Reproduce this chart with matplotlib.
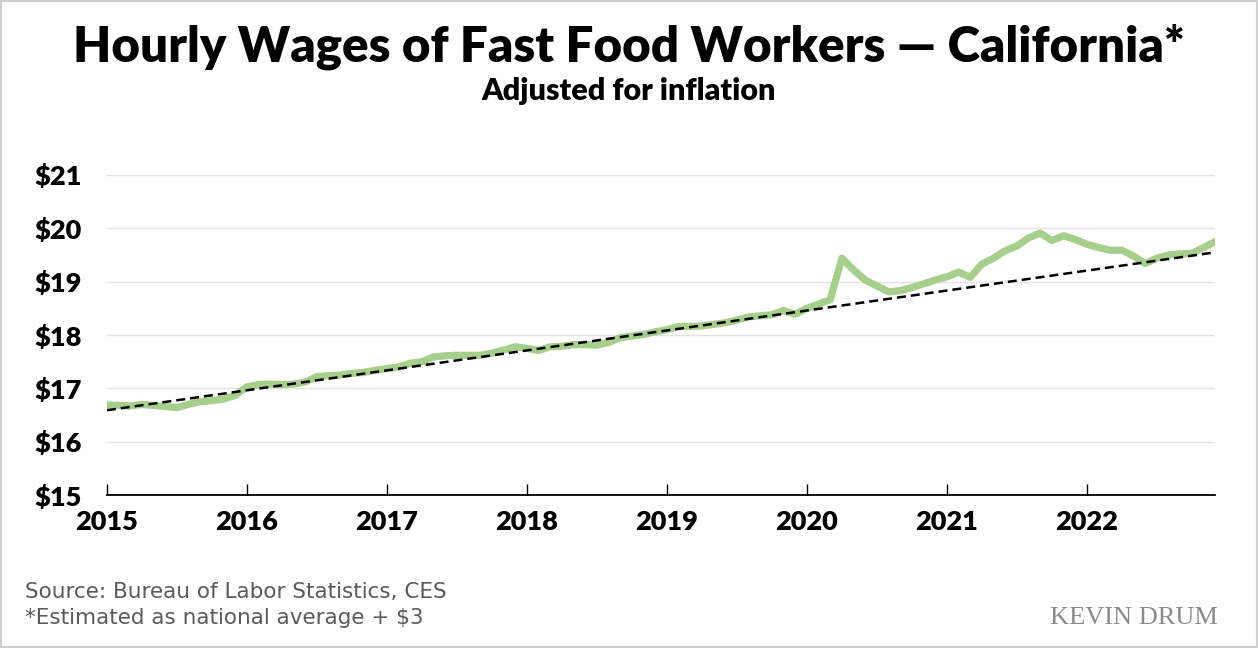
import matplotlib.pyplot as plt
import matplotlib.patches as patches
import numpy as np

# Monthly wage, Jan 2015 - Dec 2022 (inflation adjusted, national avg + $3)
wages_2015 = [16.69, 16.68, 16.67, 16.70, 16.68, 16.66, 16.64, 16.70, 16.75, 16.77, 16.80, 16.87]
wages_2016 = [17.03, 17.07, 17.08, 17.07, 17.08, 17.12, 17.22, 17.24, 17.25, 17.28, 17.30, 17.34]
wages_2017 = [17.37, 17.40, 17.47, 17.50, 17.59, 17.61, 17.62, 17.62, 17.62, 17.66, 17.72, 17.78]
wages_2018 = [17.75, 17.71, 17.78, 17.79, 17.82, 17.82, 17.81, 17.86, 17.95, 17.98, 18.01, 18.06]
wages_2019 = [18.10, 18.16, 18.16, 18.17, 18.20, 18.23, 18.28, 18.34, 18.36, 18.38, 18.46, 18.39]
wages_2020 = [18.50, 18.58, 18.66, 19.44, 19.22, 19.03, 18.92, 18.81, 18.83, 18.89, 18.96, 19.03]
wages_2021 = [19.09, 19.18, 19.08, 19.33, 19.44, 19.58, 19.67, 19.82, 19.91, 19.77, 19.86, 19.79]
wages_2022 = [19.70, 19.64, 19.59, 19.59, 19.48, 19.34, 19.44, 19.50, 19.52, 19.53, 19.64, 19.75]

# Trend line end points (Jan 2015, Dec 2022)
trend_start = 16.59
trend_end = 19.55

years = [2015, 2016, 2017, 2018, 2019, 2020, 2021, 2022]
y_ticks = [15, 16, 17, 18, 19, 20, 21]

wages = (wages_2015 + wages_2016 + wages_2017 + wages_2018
         + wages_2019 + wages_2020 + wages_2021 + wages_2022)
x = 2015 + np.arange(len(wages)) / 12

fig = plt.figure(figsize=(12.58, 6.48), dpi=100)
ax = fig.add_axes([0.085, 0.236, 0.881, 0.494])

ax.plot(x, wages, color="#a6cf8c", linewidth=5.2, solid_joinstyle="round", zorder=3)
ax.plot([x[0], x[-1]], [trend_start, trend_end], color="black",
        linewidth=1.8, dashes=(3.6, 2.0), zorder=4)

ax.set_xlim(2015, x[-1])
ax.set_ylim(15, 21)

# Grid and spines
ax.set_yticks(y_ticks)
ax.set_yticklabels([f"${v}" for v in y_ticks])
ax.grid(axis="y", color="#e3e3e3", linewidth=1)
ax.set_axisbelow(True)
for side in ["top", "right", "left"]:
    ax.spines[side].set_visible(False)
ax.spines["bottom"].set_linewidth(1.3)

ax.set_xticks(years)
ax.set_xticklabels([str(y) for y in years])
ax.tick_params(axis="x", direction="in", length=8, width=1, pad=11)
ax.tick_params(axis="y", length=0, pad=18)
for lbl in ax.get_xticklabels() + ax.get_yticklabels():
    lbl.set_fontfamily("Lato")
    lbl.set_fontweight("heavy")
    lbl.set_fontsize(19.5)

# Titles
fig.text(0.5, 0.928, "Hourly Wages of Fast Food Workers \u2014 California*",
         ha="center", va="center", fontsize=35.5, fontweight="heavy", family="Lato")
fig.text(0.5, 0.859, "Adjusted for inflation", ha="center", va="center",
         fontsize=22, fontweight="heavy", family="Lato")

# Footer
fig.text(0.02, 0.086, "Source: Bureau of Labor Statistics, CES", ha="left",
         va="center", fontsize=15.5, color="#5a5a5a", family="DejaVu Sans")
fig.text(0.02, 0.046, "*Estimated as national average + $3", ha="left",
         va="center", fontsize=15.5, color="#5a5a5a", family="DejaVu Sans")
fig.text(0.968, 0.046, "KEVIN DRUM", ha="right", va="center", fontsize=19,
         color="#8a8a8a", family="Liberation Serif")

# Light frame around the picture
fig.patches.append(patches.Rectangle((0.001, 0.002), 0.998, 0.996,
                                     transform=fig.transFigure, fill=False,
                                     edgecolor="#cfcfcf", linewidth=1.5))

fig.savefig("out.png", dpi=100, facecolor="white")
